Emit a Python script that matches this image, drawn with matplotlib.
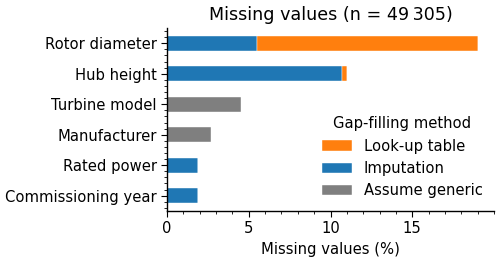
import matplotlib
matplotlib.use("Agg")
import matplotlib.pyplot as plt
import numpy as np
from matplotlib.ticker import AutoMinorLocator

# Data (percent of missing values, by gap-filling method)
categories = ["Rotor diameter", "Hub height", "Turbine model",
              "Manufacturer", "Rated power", "Commissioning year"]
imputation = [5.52, 10.68, 0.0, 0.0, 1.88, 1.90]
lookup_table = [13.52, 0.31, 0.0, 0.0, 0.0, 0.0]
assume_generic = [0.0, 0.0, 4.53, 2.69, 0.0, 0.0]
n_total = "49\u2009305"

FS = 10.6
plt.rcParams["axes.linewidth"] = 1.0
plt.rcParams["xtick.major.size"] = 4
plt.rcParams["ytick.major.size"] = 4
plt.rcParams["xtick.minor.size"] = 2.2
plt.rcParams["ytick.minor.size"] = 2.2

fig = plt.figure(figsize=(5.0, 2.64), dpi=100)
ax = fig.add_axes([0.334, 0.201, 0.654, 0.693])

y = np.arange(len(categories))[::-1]
h = 0.5
b_imp = ax.barh(y, imputation, height=h, color="#1f77b4", label="Imputation",
                edgecolor="white", linewidth=0.3)
b_lut = ax.barh(y, lookup_table, left=imputation, height=h, color="#ff7f0e",
                label="Look-up table", edgecolor="white", linewidth=0.3)
left2 = np.array(imputation) + np.array(lookup_table)
b_gen = ax.barh(y, assume_generic, left=left2, height=h, color="#7f7f7f",
                label="Assume generic", edgecolor="white", linewidth=0.3)

ax.set_yticks(y)
ax.set_yticklabels(categories, fontsize=FS)
ax.set_ylim(-0.5, 5.5)
ax.set_xlim(0, 20)
ax.set_xticks([0, 5, 10, 15])
ax.tick_params(axis="x", labelsize=FS)
ax.xaxis.set_minor_locator(AutoMinorLocator(5))
ax.yaxis.set_minor_locator(AutoMinorLocator(5))
ax.spines["top"].set_visible(False)
ax.spines["right"].set_visible(False)

ax.set_xlabel("Missing values (%)", fontsize=FS)
ax.set_title(f"Missing values (n = {n_total})", fontsize=12.6)

ax.legend([b_lut, b_imp, b_gen], ["Look-up table", "Imputation", "Assume generic"],
          title="Gap-filling method", frameon=False, fontsize=FS, title_fontsize=FS,
          loc="lower right", bbox_to_anchor=(1.005, -0.003))

fig.savefig("out.png", dpi=100)
